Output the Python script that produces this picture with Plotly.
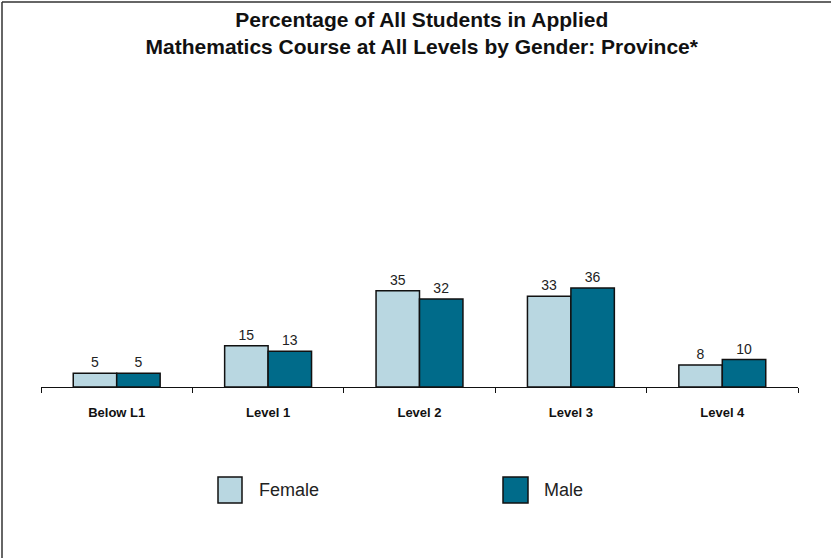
import plotly.graph_objects as go

categories = ["Below L1", "Level 1", "Level 2", "Level 3", "Level 4"]
female = [5, 15, 35, 33, 8]
male = [5, 13, 32, 36, 10]
series_names = ["Female", "Male"]
colors = ["#B9D7E1", "#006B8A"]

W, H = 831, 558
L, R, T, B = 41, 798, 112, 387

def px(x):
    return (x - L) / (R - L)

def py(y):
    return (B - y) / (B - T)

fig = go.Figure()
for name, vals, col in zip(series_names, [female, male], colors):
    fig.add_trace(go.Bar(
        x=categories, y=vals, name=name,
        marker=dict(color=col, line=dict(color="#111111", width=1.5)),
        text=[str(v) for v in vals], textposition="outside",
        textfont=dict(family="Liberation Sans, Arial", size=14, color="#222222"),
        cliponaxis=False, showlegend=False,
    ))

shapes = []
annotations = []
# manual legend
leg = [(218, 242, 257), (503, 528, 542)]
for (x0, x1, tx), name, col in zip(leg, series_names, colors):
    shapes.append(dict(type="rect", xref="paper", yref="paper",
                       x0=px(x0), x1=px(x1), y0=py(503), y1=py(477),
                       fillcolor=col, line=dict(color="#111111", width=1.5)))
    annotations.append(dict(xref="paper", yref="paper", x=px(tx), y=py(490),
                            text=name, showarrow=False, xanchor="left", yanchor="middle",
                            font=dict(family="Liberation Sans, Arial", size=18, color="#222222")))
# frame lines (top and left)
shapes.append(dict(type="line", xref="paper", yref="paper", x0=px(2), x1=px(831),
                   y0=py(2), y1=py(2), line=dict(color="#333333", width=1.5)))
shapes.append(dict(type="line", xref="paper", yref="paper", x0=px(2), x1=px(2),
                   y0=py(2), y1=py(558), line=dict(color="#333333", width=1.5)))

fig.update_layout(
    width=W, height=H,
    margin=dict(l=L, r=W - R, t=T, b=H - B, pad=0),
    paper_bgcolor="white", plot_bgcolor="white",
    barmode="group", bargap=0.426, bargroupgap=0,
    title=dict(text="<b>Percentage of All Students in Applied<br>Mathematics Course at All Levels by Gender: Province*</b>",
               x=0.503, xref="paper", xanchor="center", y=1 - 27 / H, yanchor="middle",
               font=dict(family="Liberation Sans, Arial", size=21, color="#111111")),
    xaxis=dict(showline=True, linecolor="#111111", linewidth=1.2,
               ticks="outside", tickson="boundaries", ticklen=5, tickcolor="#111111", tickwidth=1.2,
               tickfont=dict(family="Liberation Sans, Arial", size=13, color="#111111"),
               tickprefix="<b>", ticksuffix="</b>", ticklabelstandoff=13,
               showgrid=False, fixedrange=True),
    yaxis=dict(range=[0, 100], visible=False, showgrid=False, fixedrange=True),
    shapes=shapes, annotations=annotations,
)

fig.write_html("out.html", config={"displayModeBar": False},
               post_script="document.documentElement.style.overflow='hidden';document.body.style.margin='0px';document.body.style.overflow='hidden';")
